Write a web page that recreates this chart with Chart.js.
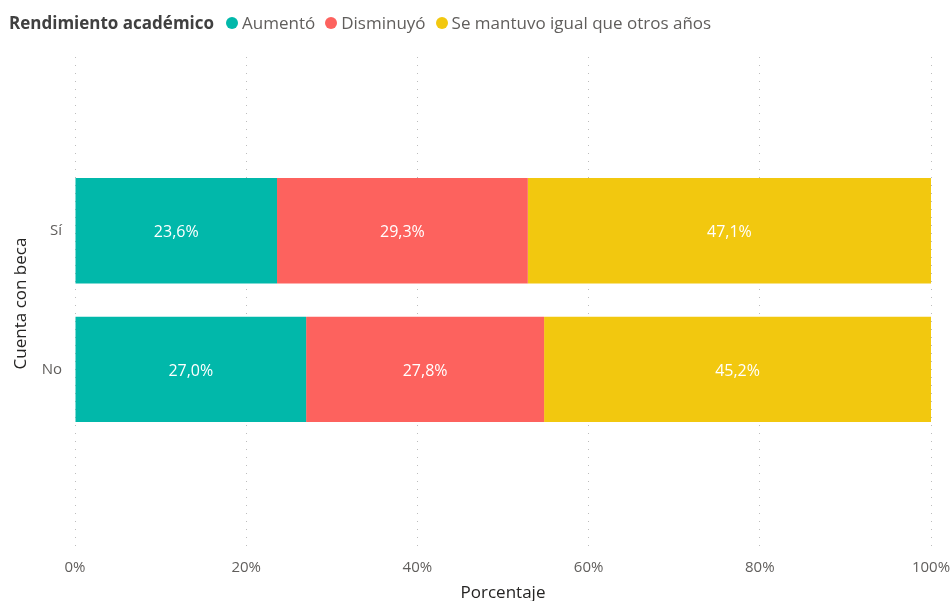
<!DOCTYPE html>
<html>
<head>
<meta charset="utf-8">
<script src="https://cdn.jsdelivr.net/npm/chart.js@4/dist/chart.umd.min.js"></script>
<style>
    html, body { margin: 0; padding: 0; background: #fff; }
    #wrap { position: relative; width: 951px; height: 601px; overflow: hidden; }
    #legend {
        position: absolute; left: 9px; top: 11px;
        display: flex; align-items: center;
        font-family: "Open Sans", sans-serif; font-size: 17px; color: #605E5C;
        white-space: nowrap;
    }
    #legend .title { font-weight: 700; color: #404040; margin-right: 12px; }
    #legend .dot { width: 12px; height: 12px; border-radius: 50%; display: inline-block; margin-right: 4px; }
    #legend .item { display: flex; align-items: center; margin-right: 10px; }
</style>
</head>
<body>
<div id="wrap">
    <div id="legend"></div>
    <canvas id="chart" width="951" height="601"></canvas>
</div>
<script>
    const categories = ["Sí", "No"];
    const seriesNames = ["Aumentó", "Disminuyó", "Se mantuvo igual que otros años"];
    const aumento = [23.6, 27.0];
    const disminuyo = [29.3, 27.8];
    const igual = [47.1, 45.2];
    const colors = ["#01B8AA", "#FD625E", "#F2C80F"];
    const xTicks = [0, 20, 40, 60, 80, 100];

    // legend (Power BI style: title inline with items)
    const legend = document.getElementById("legend");
    legend.innerHTML = '<span class="title">Rendimiento académico</span>' +
        seriesNames.map((name, i) =>
            `<span class="item"><span class="dot" style="background:${colors[i]}"></span>${name}</span>`
        ).join("");

    // category index on a linear axis so the band positions can be tuned
    const toPoints = (values) => values.map((v, i) => ({ x: v, y: i }));

    const barLabels = {
        id: "barLabels",
        afterDatasetsDraw(chart) {
            const ctx = chart.ctx;
            ctx.save();
            ctx.fillStyle = "#ffffff";
            ctx.font = '16px "Open Sans", sans-serif';
            ctx.textAlign = "center";
            ctx.textBaseline = "middle";
            chart.data.datasets.forEach((ds, di) => {
                const meta = chart.getDatasetMeta(di);
                meta.data.forEach((bar, i) => {
                    const c = bar.getCenterPoint();
                    const txt = ds.data[i].x.toFixed(1).replace(".", ",") + "%";
                    ctx.fillText(txt, c.x, c.y + 2);
                });
            });
            ctx.restore();
        }
    };

    new Chart(document.getElementById("chart"), {
        type: "bar",
        data: {
            datasets: [
                { label: seriesNames[0], data: toPoints(aumento), backgroundColor: colors[0] },
                { label: seriesNames[1], data: toPoints(disminuyo), backgroundColor: colors[1] },
                { label: seriesNames[2], data: toPoints(igual), backgroundColor: colors[2] },
            ],
        },
        plugins: [barLabels],
        options: {
            indexAxis: "y",
            responsive: false,
            animation: false,
            categoryPercentage: 1,
            barPercentage: 0.76,
            layout: { padding: { top: 57, right: 0, left: 0, bottom: 0 } },
            plugins: {
                legend: { display: false },
                tooltip: { enabled: false },
            },
            scales: {
                x: {
                    type: "linear",
                    stacked: true,
                    min: 0,
                    max: 100,
                    afterBuildTicks: (scale) => { scale.ticks = xTicks.map((v) => ({ value: v })); },
                    border: { display: false, dash: [1, 7] },
                    grid: {
                        color: "#bdbdbd",
                        drawTicks: false,
                    },
                    ticks: {
                        color: "#605E5C",
                        font: { family: "Open Sans", size: 15 },
                        padding: 9,
                        callback: (v) => v + "%",
                    },
                    title: {
                        display: true,
                        text: "Porcentaje",
                        color: "#252423",
                        font: { family: "Open Sans", size: 17 },
                        padding: { top: 2, bottom: -2 },
                    },
                    afterFit: (scale) => {
                        scale.height = 51;
                        scale.paddingRight = 20;
                    },
                },
                y: {
                    type: "linear",
                    stacked: true,
                    reverse: true,
                    offset: false,
                    min: -1.254,
                    max: 2.304,
                    afterBuildTicks: (scale) => { scale.ticks = categories.map((c, i) => ({ value: i })); },
                    border: { display: false },
                    grid: { display: false },
                    ticks: {
                        color: "#605E5C",
                        font: { family: "Open Sans", size: 15 },
                        padding: 5,
                        callback: (v) => categories[v],
                    },
                    title: {
                        display: true,
                        text: "Cuenta con beca",
                        color: "#252423",
                        font: { family: "Open Sans", size: 17 },
                        padding: { top: 11, bottom: 0 },
                    },
                    afterFit: (scale) => { scale.width = 75; },
                },
            },
        },
    });
</script>
</body>
</html>
